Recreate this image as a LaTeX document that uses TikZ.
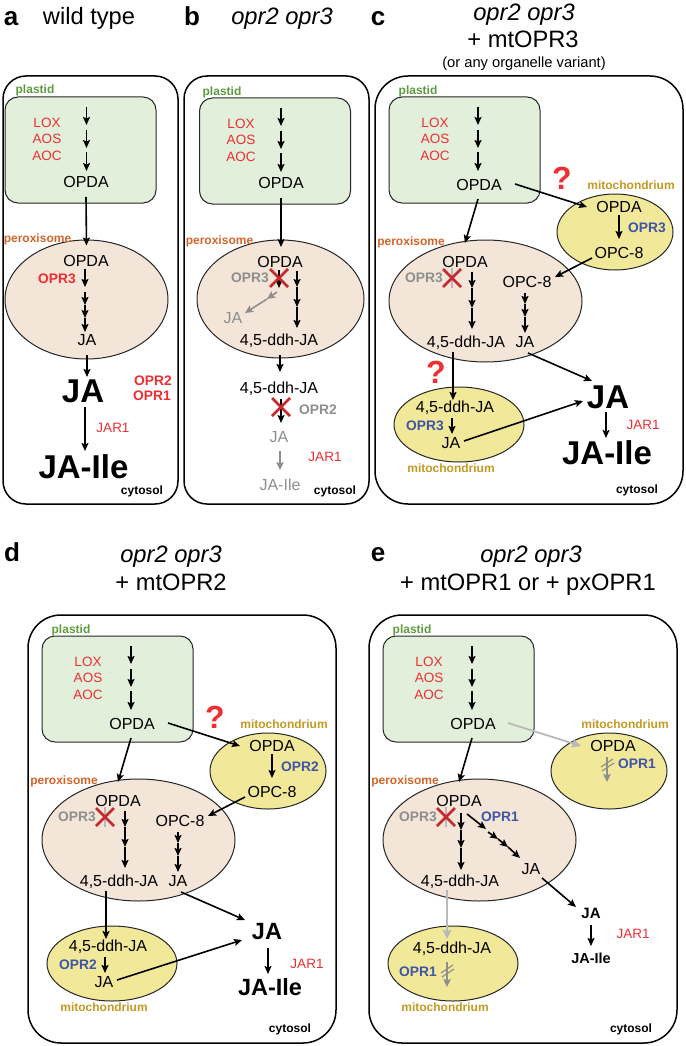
\documentclass[tikz,border=0pt]{standalone}
\usepackage{fontspec}
\setmainfont{Liberation Sans}
\usetikzlibrary{arrows.meta,shapes.geometric}
\definecolor{redT}{HTML}{EE2E33}
\definecolor{redX}{HTML}{C5282E}
\definecolor{blueT}{HTML}{3F55A5}
\definecolor{grayT}{HTML}{8E8E8E}
\definecolor{grayL}{HTML}{B9B9B9}
\definecolor{greenF}{HTML}{E2EFDA}
\definecolor{perF}{HTML}{F3E5D8}
\definecolor{mitoF}{HTML}{F2E899}
\definecolor{perT}{HTML}{D4652A}
\definecolor{plaT}{HTML}{5E9B3F}
\definecolor{mitT}{HTML}{C49A22}
\newcommand\fs[1]{\fontsize{#1}{#1}\selectfont}
\tikzset{
  tb/.style={anchor=center,inner sep=0pt,outer sep=0pt,text depth=0pt},
  met/.style={font=\fs{16},text height=11.5pt},
  gmet/.style={met,text=grayT},
  enz/.style={font=\fs{13.5},text=redT,text height=9.7pt},
  benz/.style={font=\fs{13.8}\bfseries,text=redT,text height=9.9pt},
  bgray/.style={benz,text=grayT},
  bblue/.style={benz,text=blueT},
  lab/.style={font=\fs{12}\bfseries,text height=8.6pt},
  pla/.style={lab,text=plaT},
  perl/.style={lab,text=perT},
  mitl/.style={lab,text=mitT},
  big/.style={font=\fs{33}\bfseries,text height=23.7pt},
  mid/.style={font=\fs{23.5}\bfseries,text height=16.9pt},
  small/.style={font=\fs{15}\bfseries,text height=10.8pt},
  smalli/.style={font=\fs{14.5}\bfseries,text height=10.4pt},
  tit/.style={font=\fs{23.7},text height=17pt},
  tits/.style={font=\fs{14.7},text height=10.6pt},
  let/.style={font=\fs{26}\bfseries,text height=18.7pt},
  qm/.style={font=\fs{32}\bfseries,text=redT,text height=23pt},
  cell/.style={draw=black,line width=1.5pt,fill=white,inner sep=0pt},
  plastid/.style={draw=black!85,line width=1pt,fill=greenF,rounded corners=13pt,inner sep=0pt,minimum width=151pt,minimum height=106pt},
  perox/.style={ellipse,draw=black!85,line width=1pt,fill=perF,inner sep=0pt},
  mito/.style={ellipse,draw=black!85,line width=1pt,fill=mitoF,inner sep=0pt},
  arr/.style={draw=black,line width=1.6pt,-{Stealth[length=8pt,width=7pt,inset=1.5pt]}},
  garr/.style={arr,draw=grayT,-{Stealth[length=8pt,width=7.5pt,inset=1.5pt,color=grayT]}},
  larr/.style={arr,draw=grayL,line width=1.8pt,-{Stealth[length=9pt,width=8.5pt,inset=1pt,color=grayL]}},
}
% text node: style, name, position, text
\newcommand\tx[4][met]{\node[tb,#1] (#2) at (#3) {#4};}
% connector between two named nodes with pixel offsets from their centres
\newcommand\conn[5][arr]{\draw[#1] ([shift={(#3)}]#2.center) -- ([shift={(#5)}]#4.center);}
% short reaction step between two named coordinates
\newcommand\pstep[4][arr]{\coordinate (#2s) at (#3); \coordinate (#2e) at (#4); \draw[#1] (#2s) -- (#2e);}
% red cross
\newcommand\redx[3]{\coordinate (#1a) at (#2-9,#3-9); \coordinate (#1b) at (#2+9,#3+9); \coordinate (#1c) at (#2-9,#3+9); \coordinate (#1d) at (#2+9,#3-9);
  \draw[redX,line width=2.8pt] (#1a) -- (#1b) (#1c) -- (#1d);}
% plastid content: box centre x,y; arrows x; enzyme x; label x,y
\newcommand\plastidbox[6]{
  \node[plastid] (pl) at (#1,#2) {};
  \tx[pla]{plL}{#5,#6}{plastid}
  \tx[enz]{lox}{#4,\the\numexpr#2-27\relax}{LOX}
  \tx[enz]{aos}{#4,\the\numexpr#2-11\relax}{AOS}
  \tx[enz]{aoc}{#4,\the\numexpr#2+6\relax}{AOC}
  \pstep{p1}{#3,\the\numexpr#2-43\relax}{#3,\the\numexpr#2-25\relax}
  \pstep{p2}{#3,\the\numexpr#2-20\relax}{#3,\the\numexpr#2-2\relax}
  \pstep{p3}{#3,\the\numexpr#2+2\relax}{#3,\the\numexpr#2+21\relax}
}
% shared frame of panels c, d, e (in the coordinates of panel c)
\newcommand\organelles{
  \node[cell,rounded corners=33pt,minimum width=308pt,minimum height=428pt] (cell) at (529,290) {};
  \plastidbox{464.5}{150}{478}{435}{418}{90}
  \tx{opda}{479,185}{OPDA}
  \node[perox,minimum width=193pt,minimum height=122pt] (per) at (485.5,301) {};
  \node[mito,minimum width=116pt,minimum height=76pt] (mA) at (615,232) {};
  \node[mito,minimum width=130pt,minimum height=75pt] (mB) at (459,424.5) {};
  \tx[perl]{perL}{411,241}{peroxisome}
  \tx[mitl]{mAL}{631,185}{mitochondrium}
  \tx[mitl]{mBL}{451,468}{mitochondrium}
  \tx[lab]{cyt}{637,489}{cytosol}
  \tx{pOPDA}{465,262}{OPDA}
  \tx[bgray]{pOPR}{424,278}{OPR3}
  \tx{pddh}{466,342}{4,5-ddh-JA}
  \coordinate (gs) at (452,268); \coordinate (ge) at (452,288);
  \draw[grayL,line width=2pt] (gs) -- (ge);
  \redx{pX}{452}{278}
  \conn{opda}{-1,14}{per}{-20.5,-58}
}
\newcommand\mtpath[1]{
  \tx{mOPDA}{619,207}{OPDA}
  \tx{mOPC}{619,253}{OPC-8}
  \tx[bblue]{mOPR}{647,228}{#1}
  \tx{pOPC}{527,282}{OPC-8}
  \tx{pJA}{525,342}{JA}
  \tx{bddh}{455,407}{4,5-ddh-JA}
  \tx[bblue]{bOPR}{425,426}{#1}
  \tx{bJA}{451,443}{JA}
  \tx[qm]{qA}{562,178}{?}
  \pstep{s1}{472,272}{472,288}
  \pstep{s2}{472,288}{472,308}
  \pstep{s3}{472,308}{472,329}
  \pstep{t1}{525,293}{525,304}
  \pstep{t2}{525,304}{525,317}
  \pstep{t3}{525,317}{525,333}
  \conn{opda}{36,-1}{mA}{-28,-25}
  \conn{mOPDA}{0,8}{mOPC}{0,-14}
  \conn{mOPC}{-27,5}{pOPC}{28,-5}
  \conn{pddh}{-13,10}{bddh}{-2,-7}
  \conn{bddh}{-3,11}{bJA}{1,-9}
}
\begin{document}
\begin{tikzpicture}[x=1pt,y=-1pt]
\fill[white] (0,0) rectangle (685,1046);
\useasboundingbox (0,0) rectangle (685,1046);
% ---------- titles
\tx[let]{la}{11,16}{a}
\tx[tit]{ta}{89,16}{wild type}
\tx[let]{lb}{192,16}{b}
\tx[tit]{tb}{282,16}{\itshape opr2 opr3}
\tx[let]{lc}{378,16}{c}
\tx[tit]{tc1}{524,12}{\itshape opr2 opr3}
\tx[tit]{tc2}{523,39}{+ mtOPR3}
\tx[tits]{tc3}{524,62}{(or any organelle variant)}
\tx[let]{ld}{12,552}{d}
\tx[tit]{td1}{171,554}{\itshape opr2 opr3}
\tx[tit]{td2}{171,582}{+ mtOPR2}
\tx[let]{le}{378,552}{e}
\tx[tit]{te1}{531,554}{\itshape opr2 opr3}
\tx[tit]{te2}{528,582}{+ mtOPR1 or + pxOPR1}
% ---------- panel a
\begin{scope}[name prefix=a-]
  \node[cell,rounded corners=23pt,minimum width=175pt,minimum height=428pt] (cell) at (90.5,290) {};
  \plastidbox{80.5}{150}{86.5}{47}{35}{89}
  \tx{opda}{86,182}{OPDA}
  \node[perox,minimum width=163pt,minimum height=119pt] (per) at (86.5,299.5) {};
  \tx[perl]{perL}{37.5,238}{peroxisome}
  \tx{pOPDA}{86,261}{OPDA}
  \tx[benz]{opr3}{57,279}{OPR3}
  \tx{pJA}{87,340}{JA}
  \tx[big]{JA}{83,391}{JA}
  \tx[big]{JAIle}{83.5,467}{JA-Ile}
  \tx[benz]{opr2}{153,381}{OPR2}
  \tx[benz]{opr1}{152,396}{OPR1}
  \tx[enz]{jar}{113,428}{JAR1}
  \tx[lab]{cyt}{142,490}{cytosol}
  \conn{opda}{0,15}{per}{0,-54}
  \pstep{s1}{85,269}{85,287}
  \pstep{s2}{85,292}{85,305}
  \pstep{s3}{85,305}{85,318}
  \pstep{s4}{85,318}{85,332}
  \conn{pJA}{0,15}{JA}{4,-14}
  \conn{JA}{2,16}{JAIle}{1.5,-16}
\end{scope}
% ---------- panel b
\begin{scope}[name prefix=b-]
  \node[cell,rounded corners=23pt,minimum width=185pt,minimum height=428pt] (cell) at (276.5,290) {};
  \plastidbox{275}{151}{281}{241}{222}{91}
  \tx{opda}{281,183}{OPDA}
  \node[perox,minimum width=167pt,minimum height=118pt] (per) at (280.5,299) {};
  \tx[perl]{perL}{219.5,240}{peroxisome}
  \tx{pOPDA}{280,262}{OPDA}
  \tx[bgray]{opr3}{250,278}{OPR3}
  \tx[gmet]{gJA}{233,318}{JA}
  \tx{pddh}{279,340}{4,5-ddh-JA}
  \tx{ddh}{279,388}{4,5-ddh-JA}
  \tx[bgray]{opr2}{318,410}{OPR2}
  \tx[gmet]{JA}{279,437}{JA}
  \tx[enz]{jar}{325,457}{JAR1}
  \tx[gmet]{JAIle}{280,485}{JA-Ile}
  \tx[lab]{cyt}{335,490}{cytosol}
  \conn{opda}{0,15}{per}{0.5,-52}
  \pstep{k1}{279,270}{279,288}
  \redx{xA}{279}{278}
  \pstep[garr]{g1}{277,292}{267,299}
  \pstep[garr]{g2}{267,299}{245,313}
  \pstep{s1}{297,271}{297,287}
  \pstep{s2}{297,287}{297,307}
  \pstep{s3}{297,307}{297,328}
  \conn{pddh}{1,15}{ddh}{1,-16}
  \conn{ddh}{2,11}{JA}{2,-14}
  \redx{xB}{281}{407}
  \conn[garr]{JA}{1,14}{JAIle}{0,-15}
\end{scope}
% ---------- panel c
\begin{scope}[name prefix=c-]
  \organelles
  \mtpath{OPR3}
  \tx[qm]{qB}{436,372}{?}
  \tx[big]{JA}{608,397}{JA}
  \tx[big]{JAIle}{607,453}{JA-Ile}
  \tx[enz]{jar}{643,425}{JAR1}
  \conn{pJA}{3,11}{JA}{-16,-16}
  \conn{bJA}{13,-2}{JA}{-25,4}
  \conn{JA}{-2,15}{JAIle}{-1,-15}
\end{scope}
% ---------- panel d
\begin{scope}[shift={(-347,539)},name prefix=d-]
  \organelles
  \mtpath{OPR2}
  \tx[mid]{JA}{614,392}{JA}
  \tx[mid]{JAIle}{617,448}{JA-Ile}
  \tx[enz]{jar}{654,425}{JAR1}
  \conn{pJA}{3,11}{JA}{-22,-11}
  \conn{bJA}{13,-2}{JA}{-25,9}
  \conn{JA}{1,17}{JAIle}{-2,-13}
\end{scope}
% ---------- panel e
\begin{scope}[shift={(-6,539)},name prefix=e-]
  \organelles
  \tx{mOPDA}{619,207}{OPDA}
  \tx[bblue]{mOPR}{643,225}{OPR1}
  \tx[bblue]{pOPR1}{506,278}{OPR1}
  \tx{pJA}{537,330}{JA}
  \tx{bddh}{458,409}{4,5-ddh-JA}
  \tx[bblue]{bOPR}{424,433}{OPR1}
  \tx[small]{JA}{597,374}{JA}
  \tx[smalli]{JAIle}{597,419}{JA-Ile}
  \tx[enz]{jar}{639,395}{JAR1}
  \conn[larr]{opda}{35,-1}{mA}{-28,-25}
  \pstep[garr]{m1}{613,218}{613,243}
  \coordinate (h1a) at (607,228); \coordinate (h1b) at (619,220);
  \coordinate (h2a) at (608,232); \coordinate (h2b) at (620,224);
  \draw[grayT,line width=1.2pt] (h1a) -- (h1b) (h2a) -- (h2b);
  \pstep{s1}{467,274}{467,291}
  \pstep{s2}{467,291}{467,309}
  \pstep{s3}{467,309}{467,331}
  \pstep{d1}{473,275}{492,290}
  \pstep{d2}{494,293}{504,300}
  \pstep{d3}{504,300}{514,308}
  \pstep{d4}{514,308}{526,319}
  \conn{pJA}{11,9}{JA}{-15,-6}
  \conn{JA}{0,12}{JAIle}{0,-12}
  \conn[larr]{pddh}{-13,9}{bddh}{-5,-9}
  \pstep[garr]{m2}{453,423}{453,448}
  \coordinate (h3a) at (447,434); \coordinate (h3b) at (459,426);
  \coordinate (h4a) at (448,438); \coordinate (h4b) at (460,430);
  \draw[grayT,line width=1.2pt] (h3a) -- (h3b) (h4a) -- (h4b);
\end{scope}
\end{tikzpicture}
\end{document}
